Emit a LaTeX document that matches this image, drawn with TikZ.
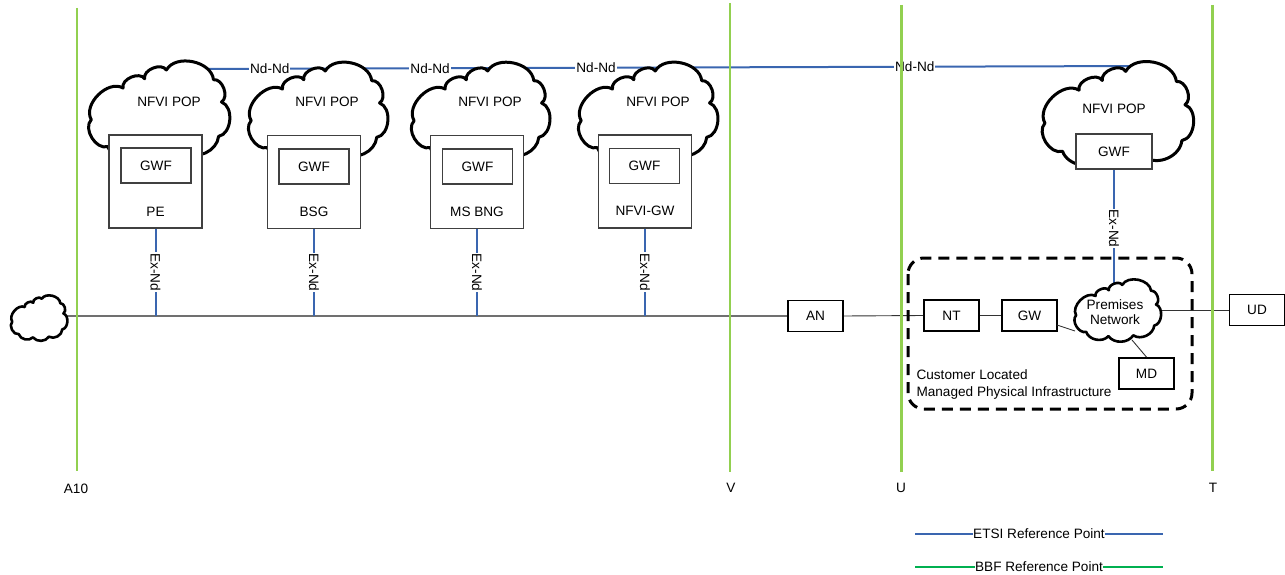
\documentclass[tikz,border=0pt]{standalone}
\usepackage{fontspec}
\setmainfont{Liberation Sans}
\definecolor{etsi}{HTML}{3A66B0}
\definecolor{bbf}{HTML}{92D050}
\definecolor{bbfleg}{HTML}{00B050}
\definecolor{mainln}{HTML}{707070}
% #1 line width, #2 name, #3 left x, #4 top y, #5 width, #6 height
\newcommand\drawvcloud[6]{%
  \begin{scope}[shift={(#3,#4)}, x=#5pt, y=-#6pt]
    \draw[draw=black, fill=white, line width=#1, line join=round]
      (0.057,0.62) to[bend left=75] (0.276,0.28)
      to[bend left=80] (0.425,0.18)
      to[bend left=80] (0.575,0.086)
      to[bend left=72] (0.90,0.19)
      to[bend left=78] (0.955,0.43)
      to[bend left=75] (0.935,0.80)
      to[bend left=60] (0.70,0.97)
      to[bend left=55] (0.42,0.985)
      to[bend left=60] (0.17,0.91)
      to[bend left=75] (0.057,0.62) -- cycle;
    \coordinate (#2) at (0.5,0.5);
  \end{scope}}
\begin{document}
\begin{tikzpicture}[x=1pt,y=-1pt,
  font=\fontsize{13.6}{16}\selectfont,
  hostbox/.style={draw=black!75, line width=1.1pt, fill=white, minimum width=93pt, minimum height=93pt, inner sep=0pt},
  gwfbox/.style={draw=black!75, line width=1.1pt, fill=white, minimum width=70pt, minimum height=35pt, inner sep=0pt},
  blk/.style={draw=black, line width=1.8pt, fill=white, minimum width=55pt, minimum height=31pt, inner sep=0pt},
  etsiln/.style={draw=etsi, line width=2pt},
  refln/.style={draw=bbf, line width=2.2pt},
  mainc/.style={draw=mainln, line width=1.2pt},
  thinc/.style={draw=black!80, line width=0.9pt},
  lbl/.style={fill=white, inner sep=1pt},
  exlbl/.style={fill=white, inner sep=1pt, rotate=-90},
]
\useasboundingbox (0,0) rectangle (1285,575);

% Nd-Nd line (behind the clouds)
\coordinate (nda) at (200,69);
\coordinate (ndb) at (1143,66);
\draw[etsiln] (nda) -- node[lbl, pos=0.074] (nd1) {Nd-Nd}
                       node[lbl, pos=0.244] (nd2) {Nd-Nd}
                       node[lbl, pos=0.420] (nd3) {Nd-Nd}
                       node[lbl, pos=0.758] (nd4) {Nd-Nd} (ndb);

% NFVI POP clouds
\drawvcloud{3pt}{pop1}{83}{62}{145}{93}
\drawvcloud{3pt}{pop2}{243}{63}{143}{93}
\drawvcloud{3pt}{pop3}{406}{63}{142}{93}
\drawvcloud{3pt}{pop4}{573}{63}{143}{93}
\drawvcloud{3pt}{pop5}{1036}{63}{156}{97}
\node (pop1t) at (169,102) {NFVI POP};
\node (pop2t) at (327,102) {NFVI POP};
\node (pop3t) at (490,102) {NFVI POP};
\node (pop4t) at (658,102) {NFVI POP};
\node (pop5t) at (1114,109) {NFVI POP};

% host boxes
\node[hostbox] (pe) at (155.5,181.5) {};
\node[hostbox] (bsg) at (314,182) {};
\node[hostbox] (msbng) at (477,182) {};
\node[hostbox] (nfvigw) at (645,181.5) {};
\node[gwfbox] (gwf1) at (156,165.5) {GWF};
\node[gwfbox] (gwf2) at (314,166.5) {GWF};
\node[gwfbox] (gwf3) at (477.5,166.5) {GWF};
\node[gwfbox] (gwf4) at (644.5,166) {GWF};
\node[gwfbox, minimum width=76pt] (gwf5) at (1114,151.5) {GWF};
\node (pet) at (155.5,212) {PE};
\node (bsgt) at (314,212) {BSG};
\node (msbngt) at (477,212) {MS BNG};
\node (nfvigwt) at (645,211) {NFVI-GW};

% access chain boxes
\node[blk] (an) at (815.5,316) {AN};
\node[blk] (nt) at (951.5,315.5) {NT};
\node[blk] (gw) at (1029.5,315.5) {GW};
\node[blk] (ud) at (1257,310) {UD};
\node[blk] (md) at (1146.5,373.5) {MD};

% connectors of the access chain
\coordinate (lce) at (64,316);
\draw[mainc] (lce) -- (an.west);
\draw[thinc] (an.east) -- (nt.west);
\draw[thinc] (nt.east) -- (gw.west);
\coordinate (gwo) at (1057,325);
\coordinate (prin) at (1075,331);
\draw[thinc] (gwo) -- (prin);
\coordinate (prr) at (1155,310);
\draw[thinc] (prr) -- (ud.west);
\coordinate (prout) at (1132,340);
\draw[thinc] (prout) -- (md.north);

% Ex-Nd connectors
\draw[etsiln] (pe.south) -- node[exlbl] (ex1) {Ex-Nd} (pe.south |- lce);
\draw[etsiln] (bsg.south) -- node[exlbl] (ex2) {Ex-Nd} (bsg.south |- lce);
\draw[etsiln] (msbng.south) -- node[exlbl] (ex3) {Ex-Nd} (msbng.south |- lce);
\draw[etsiln] (nfvigw.south) -- node[exlbl] (ex4) {Ex-Nd} (nfvigw.south |- lce);
\coordinate (premtop) at (1114,290);
\draw[etsiln] (gwf5.south) -- node[exlbl, pos=0.49] (ex5) {Ex-Nd} (premtop);

% premises network cloud and the small cloud
\drawvcloud{2.6pt}{prem}{1071}{280}{89}{57}
\drawvcloud{2.6pt}{lcloud}{9}{295}{57}{43}
\node[font=\fontsize{13.6}{15}\selectfont, align=center] (premt) at (1115,312) {Premises\\Network};

% customer premises boundary
\draw[black, line width=3pt, dash pattern=on 11pt off 7pt, rounded corners=16pt]
  (908,258) rectangle (1192,409);
\node[anchor=west, align=left, font=\fontsize{13.6}{17}\selectfont] (cust) at (913,384.5)
  {Customer Located\\Managed Physical Infrastructure};

% BBF reference points
\coordinate (a10top) at (77,8);   \coordinate (a10bot) at (77,471);
\coordinate (vtop) at (730,3);    \coordinate (vbot) at (730,472);
\coordinate (utop) at (901.5,5);  \coordinate (ubot) at (901.5,472);
\coordinate (ttop) at (1212.5,5); \coordinate (tbot) at (1212.5,471);
\draw[refln] (a10top) -- (a10bot);
\draw[refln] (vtop) -- (vbot);
\draw[refln] (utop) -- (ubot);
\draw[refln] (ttop) -- (tbot);
\node (a10) at (76,489) {A10};
\node (vl) at (731,488) {V};
\node (ul) at (901,488) {U};
\node (tl) at (1213,488) {T};

% legend
\coordinate (lg1a) at (915,534); \coordinate (lg1b) at (1163,534);
\coordinate (lg2a) at (915,567); \coordinate (lg2b) at (1163,567);
\draw[etsiln] (lg1a) -- node[lbl, inner sep=0.5pt] (lg1) {ETSI Reference Point} (lg1b);
\draw[draw=bbfleg, line width=2pt] (lg2a) -- node[lbl, inner sep=0.5pt] (lg2) {BBF Reference Point} (lg2b);
\end{tikzpicture}
\end{document}
